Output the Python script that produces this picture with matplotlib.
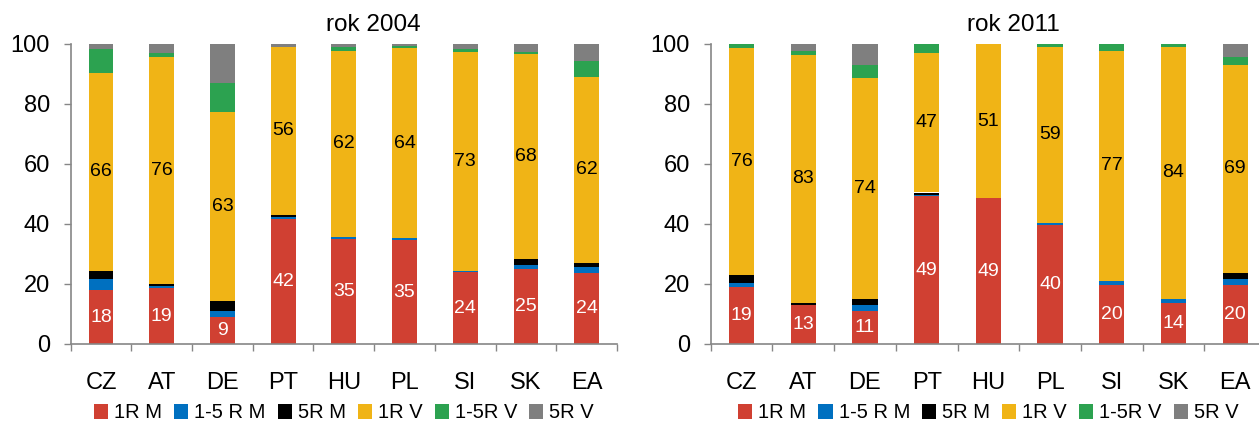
import numpy as np
import matplotlib
matplotlib.use('Agg')
import matplotlib.pyplot as plt

plt.rcParams['font.family'] = ['Liberation Sans', 'DejaVu Sans']

# ── Data ──────────────────────────────────────────────────────────────
categories = ['CZ', 'AT', 'DE', 'PT', 'HU', 'PL', 'SI', 'SK', 'EA']
series     = ['1R M', '1-5 R M', '5R M', '1R V', '1-5R V', '5R V']
colors     = ['#D04032', '#0070C0', '#000000', '#F0B416', '#2CA250', '#7F7F7F']

# rok 2004
r1m_2004  = [17.9, 18.6, 9.1, 41.8, 35.1, 34.6, 23.9, 25.1, 23.8]
r15m_2004 = [3.9, 0.6, 2.0, 0.6, 0.7, 0.6, 0.5, 1.3, 2.0]
r5m_2004  = [2.6, 0.8, 3.3, 0.7, 0.0, 0.0, 0.0, 2.0, 1.3]
r1v_2004  = [66.1, 75.8, 63.0, 55.9, 62.0, 63.6, 72.8, 68.3, 62.0]
r15v_2004 = [7.8, 1.2, 9.6, 0.0, 1.2, 0.4, 1.1, 0.8, 5.3]
r5v_2004  = [1.7, 3.0, 13.0, 1.0, 1.0, 0.8, 1.7, 2.5, 5.6]

# rok 2011
r1m_2011  = [19.1, 13.1, 11.1, 49.2, 48.6, 39.8, 19.8, 13.8, 19.8]
r15m_2011 = [1.3, 0.0, 2.0, 0.6, 0.0, 0.6, 1.3, 1.3, 2.0]
r5m_2011  = [2.7, 0.7, 2.0, 0.7, 0.0, 0.0, 0.0, 0.0, 2.0]
r1v_2011  = [75.6, 82.6, 73.6, 46.6, 51.4, 58.6, 76.6, 83.9, 69.2]
r15v_2011 = [1.3, 1.3, 4.3, 2.9, 0.0, 1.0, 2.3, 1.0, 2.7]
r5v_2011  = [0.0, 2.3, 7.0, 0.0, 0.0, 0.0, 0.0, 0.0, 4.3]

panels = [
    ('rok 2004', [r1m_2004, r15m_2004, r5m_2004, r1v_2004, r15v_2004, r5v_2004]),
    ('rok 2011', [r1m_2011, r15m_2011, r5m_2011, r1v_2011, r15v_2011, r5v_2011]),
]

W, H = 1259, 426
fig = plt.figure(figsize=(W / 100, H / 100), dpi=100)

# axes rectangles in pixels: left, right
ax_px    = [(70.7, 617.0), (710.7, 1266.0)]
title_x  = [373.5, 1013.0]
bottom   = (H - 344) / H
height   = 300 / H
axis_col = '#868686'

x = np.arange(len(categories))

for (title, data), (l, r), tx in zip(panels, ax_px, title_x):
    ax = fig.add_axes([l / W, bottom, (r - l) / W, height])
    base = np.zeros(len(categories))
    for name, vals, col in zip(series, data, colors):
        vals = np.array(vals)
        ax.bar(x, vals, width=0.41, bottom=base, color=col, label=name,
               edgecolor='none')
        base = base + vals

    # value labels: 1R M (white) and 1R V (black)
    lower = np.array(data[0])
    mid_start = lower + np.array(data[1]) + np.array(data[2])
    for i in range(len(categories)):
        ax.text(x[i], lower[i] / 2, f'{lower[i]:.0f}', ha='center', va='center',
                color='white', fontsize=14)
        yv = data[3][i]
        ax.text(x[i], mid_start[i] + yv / 2, f'{yv:.0f}', ha='center',
                va='center', color='black', fontsize=14)

    ax.set_xlim(-0.5, len(categories) - 0.5)
    ax.set_ylim(0, 100)
    ax.set_yticks(range(0, 101, 20))
    ax.set_xticks(np.arange(-0.5, len(categories), 1.0))
    ax.set_xticklabels([])
    ax.set_xticks(x, minor=True)
    ax.set_xticklabels(categories, minor=True)
    ax.tick_params(axis='x', which='major', direction='out', length=5,
                   color=axis_col, width=1)
    ax.tick_params(axis='x', which='minor', length=0, pad=20, labelsize=17)
    ax.tick_params(axis='y', direction='out', length=5, color=axis_col,
                   width=1, pad=10, labelsize=17)
    for s in ['top', 'right']:
        ax.spines[s].set_visible(False)
    for s in ['left', 'bottom']:
        ax.spines[s].set_color(axis_col)
        ax.spines[s].set_linewidth(1.2)

    fig.text(tx / W, 1 - 25 / H, title, ha='center', va='center', fontsize=17.5)

    ax.legend(loc='center', bbox_to_anchor=(0.5, -0.23), ncol=6, frameon=False,
              fontsize=14.5, handlelength=0.7, handleheight=0.7,
              handletextpad=0.3, columnspacing=0.6, borderaxespad=0)

fig.savefig('out.png', dpi=100)
